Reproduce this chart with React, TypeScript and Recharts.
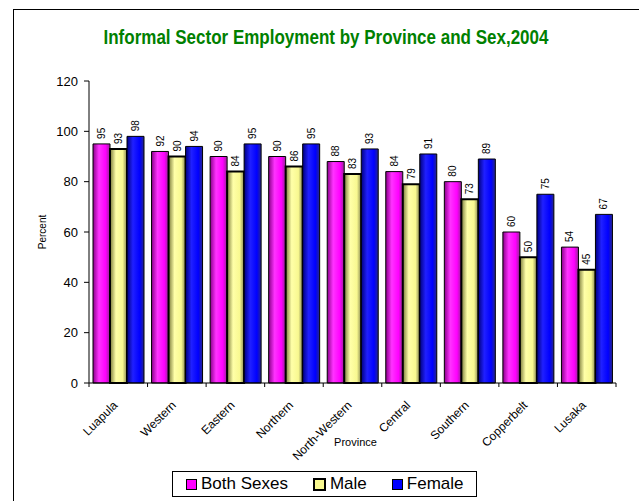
import React from 'react';
import { BarChart, Bar, XAxis, YAxis } from 'recharts';

// values
const provinces = ['Luapula', 'Western', 'Eastern', 'Northern', 'North-Western', 'Central', 'Southern', 'Copperbelt', 'Lusaka'];
const bothSexes = [95, 92, 90, 90, 88, 84, 80, 60, 54];
const male = [93, 90, 84, 86, 83, 79, 73, 50, 45];
const female = [98, 94, 95, 95, 93, 91, 89, 75, 67];
const yTicks = [0, 20, 40, 60, 80, 100, 120];

const series = [
  { key: 'both', name: 'Both Sexes', light: '#ff33ff', mid: '#ff00ff', dark: '#8a008a', border: 1 },
  { key: 'male', name: 'Male', light: '#ffffa8', mid: '#f8f890', dark: '#7a7a3a', border: 2 },
  { key: 'female', name: 'Female', light: '#2020ff', mid: '#0000ff', dark: '#000080', border: 1 },
];

const data = provinces.map((p, i) => ({ province: p, both: bothSexes[i], male: male[i], female: female[i] }));

const W = 639;
const H = 501;
const M = { top: 81, right: 23, bottom: 0, left: 0 };
const Y_W = 89;
const X_H = 118;
const plotW = W - M.left - M.right - Y_W;
const band = plotW / provinces.length;
const font = '"Liberation Sans", Arial, sans-serif';

const valueLabel = (props: any) => {
  const { x, y, width, value } = props;
  const cx = x + width / 2;
  const cy = y - 5;
  return (
    <text x={cx} y={cy} transform={`rotate(-90 ${cx} ${cy})`} textAnchor="start" dominantBaseline="central"
      fontSize={10} fontFamily={font} fill="#000">
      {value}
    </text>
  );
};

const ProvinceTick = (props: any) => {
  const { x, y, payload, index } = props;
  const left = x - band / 2;
  const tx = x;
  const ty = y + 23;
  return (
    <g>
      <line x1={left} y1={y} x2={left} y2={y + 4} stroke="#000" />
      {index === provinces.length - 1 && <line x1={x + band / 2} y1={y} x2={x + band / 2} y2={y + 4} stroke="#000" />}
      <text x={tx} y={ty} transform={`rotate(-45 ${tx} ${ty})`} textAnchor="end" fontSize={12} fontFamily={font} fill="#000">
        {payload.value}
      </text>
    </g>
  );
};

export default function App() {
  return (
    <div style={{ position: 'absolute', left: 0, top: 0, width: W, height: H, overflow: 'hidden', background: '#fff' }}>
      <div style={{ position: 'absolute', left: 13, top: 9, width: 700, height: 600, border: '1px solid #000' }} />
      <div style={{
        position: 'absolute', left: 0, width: 652, top: 26, textAlign: 'center',
        fontFamily: font, fontWeight: 'bold', fontSize: 20, color: '#008000',
        transform: 'scaleX(0.85)', transformOrigin: '326px 0',
      }}>
        Informal Sector Employment by Province and Sex,2004
      </div>
      <div style={{ position: 'absolute', left: 0, top: 0 }}>
        <BarChart width={W} height={H} data={data} margin={M} barGap={0} barCategoryGap={4}>
          <defs>
            {series.map((s) => (
              <linearGradient key={s.key} id={`g-${s.key}`} x1="0" y1="0" x2="1" y2="0">
                <stop offset="0%" stopColor={s.dark} />
                <stop offset="35%" stopColor={s.light} />
                <stop offset="75%" stopColor={s.mid} />
                <stop offset="100%" stopColor={s.dark} stopOpacity={0.85} />
              </linearGradient>
            ))}
          </defs>
          <XAxis dataKey="province" height={X_H} interval={0} tickLine={false} tickSize={0} tickMargin={0}
            axisLine={{ stroke: '#000' }} tick={<ProvinceTick />}
            label={{
              content: (p: any) => (
                <text x={p.viewBox.x + p.viewBox.width / 2 + 3} y={p.viewBox.y + 63} textAnchor="middle"
                  fontSize={11} fontFamily={font} fill="#000">Province</text>
              ),
            }} />
          <YAxis width={Y_W} domain={[0, 120]} ticks={yTicks} interval={0} tickSize={5} tickMargin={6}
            axisLine={{ stroke: '#000' }} tickLine={{ stroke: '#000' }}
            tick={{ fontSize: 13, fontFamily: font, fill: '#000' }}
            label={{
              content: (p: any) => {
                const cx = 42;
                const cy = p.viewBox.y + p.viewBox.height / 2;
                return (
                  <text x={cx} y={cy} transform={`rotate(-90 ${cx} ${cy})`} textAnchor="middle" dominantBaseline="central"
                    fontSize={10} fontFamily={font} fill="#000">Percent</text>
                );
              },
            }} />
          {series.map((s) => (
            <Bar key={s.key} dataKey={s.key} name={s.name} fill={`url(#g-${s.key})`} stroke="#000"
              strokeWidth={s.border} isAnimationActive={false} label={valueLabel} />
          ))}
        </BarChart>
      </div>
      <div style={{
        position: 'absolute', left: 172, top: 471, width: 303, height: 24, border: '1px solid #000',
        display: 'flex', alignItems: 'center', fontFamily: font, fontSize: 17, color: '#000', boxSizing: 'content-box',
      }}>
        {series.map((s, i) => (
          <div key={s.key} style={{ display: 'flex', alignItems: 'center', marginLeft: i === 0 ? 13 : 25 }}>
            <span style={{
              display: 'inline-block', width: 9, height: 9, background: s.mid,
              border: `${s.border === 2 ? 2 : 1}px solid #000`, marginRight: 4,
            }} />
            <span>{s.name}</span>
          </div>
        ))}
      </div>
    </div>
  );
}
